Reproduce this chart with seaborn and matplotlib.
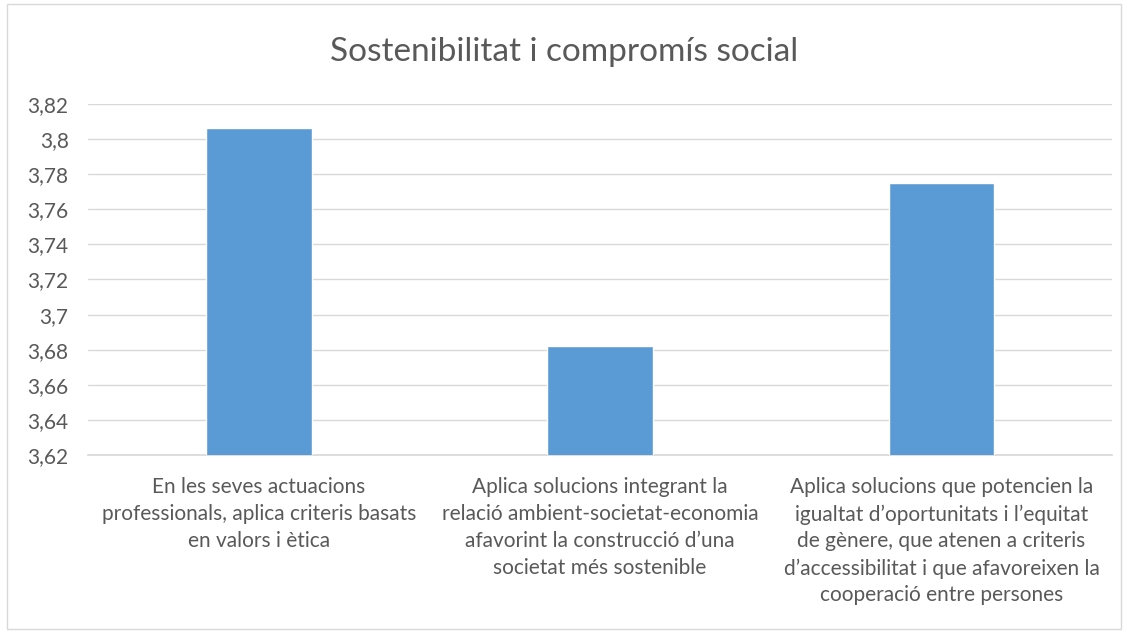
import matplotlib
matplotlib.use("Agg")
import matplotlib.pyplot as plt
import seaborn as sns
import pandas as pd
from matplotlib.ticker import FuncFormatter, MultipleLocator
from matplotlib.patches import Rectangle

TITLE = "Sostenibilitat i compromís social"
CATEGORIES = [
	"En les seves actuacions\nprofessionals, aplica criteris basats\nen valors i ètica",
	"Aplica solucions integrant la\nrelació ambient-societat-economia\nafavorint la construcció d’una\nsocietat més sostenible",
	"Aplica solucions que potencien la\nigualtat d’oportunitats i l’equitat\nde gènere, que atenen a criteris\nd’accessibilitat i que afavoreixen la\ncooperació entre persones",
]
VALUES = [3.806, 3.682, 3.775]
Y_MIN, Y_MAX, Y_STEP = 3.62, 3.82, 0.02

BAR_COLOR = "#5B9BD5"
TEXT_COLOR = "#595959"
GRID_COLOR = "#D9D9D9"

sns.set_theme(style="white")
plt.rcParams["font.family"] = ["Lato", "DejaVu Sans"]

df = pd.DataFrame({"categoria": CATEGORIES, "valor": VALUES})

fig = plt.figure(figsize=(11.28, 6.33), dpi=100)
ax = fig.add_axes([0.078, 0.281, 0.908, 0.555])

sns.barplot(data=df, x="categoria", y="valor", color=BAR_COLOR,
	width=0.31, saturation=1, ax=ax, zorder=3)

ax.set_ylim(Y_MIN, Y_MAX)
ax.yaxis.set_major_locator(MultipleLocator(Y_STEP))
ax.yaxis.set_major_formatter(FuncFormatter(
	lambda v, p: ("%.2f" % v).rstrip("0").rstrip(".").replace(".", ",")))
ax.grid(axis="y", color=GRID_COLOR, linewidth=1, zorder=0)
ax.set_xlabel("")
ax.set_ylabel("")
for s in ["top", "right", "left"]:
	ax.spines[s].set_visible(False)
ax.spines["bottom"].set_color(GRID_COLOR)
ax.tick_params(axis="y", length=0, labelsize=15, colors=TEXT_COLOR, pad=14)
ax.tick_params(axis="x", length=0, labelsize=15, colors=TEXT_COLOR, pad=16)
for lbl in ax.get_xticklabels():
	lbl.set_linespacing(1.42)
	lbl.set_verticalalignment("top")

fig.text(0.5, 0.918, TITLE, ha="center", va="center", fontsize=24, color=TEXT_COLOR)
fig.patches.append(Rectangle((0.006, 0.006), 0.988, 0.988, transform=fig.transFigure,
	fill=False, edgecolor="#D9D9D9", linewidth=1))

fig.savefig("out.png", dpi=100)
